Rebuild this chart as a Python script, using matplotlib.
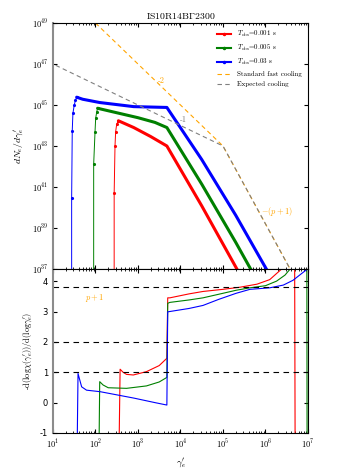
import numpy as np
import matplotlib
matplotlib.use('Agg')
import matplotlib.pyplot as plt
from matplotlib.lines import Line2D

plt.rcParams['font.family'] = 'serif'
plt.rcParams['font.serif'] = ['cmr10']
plt.rcParams['mathtext.fontset'] = 'cm'
plt.rcParams['axes.unicode_minus'] = False
plt.rcParams['axes.formatter.use_mathtext'] = True

# ---- top panel: electron spectra (log10 gamma, log10 dN/dgamma) ----
red_rise_lg = [2.44, 2.44, 2.46, 2.475, 2.50, 2.54]
red_rise_ln = [35.0, 40.69, 43.01, 43.70, 44.07, 44.23]
red_tail_lg = [2.54, 2.9, 3.3, 3.68, 4.5, 5.3, 5.5]
red_tail_ln = [44.23, 43.9, 43.46, 43.0, 40.08, 37.1, 36.35]

green_rise_lg = [1.958, 1.958, 1.99, 2.005, 2.03, 2.05]
green_rise_ln = [35.0, 42.11, 43.70, 44.35, 44.67, 44.84]
green_tail_lg = [2.05, 2.4, 3.0, 3.4, 3.68, 4.5, 5.3, 5.65, 5.9]
green_tail_ln = [44.84, 44.67, 44.38, 44.15, 43.9, 41.14, 38.3, 37.0, 36.1]

blue_rise_lg = [1.44, 1.44, 1.454, 1.47, 1.50, 1.53, 1.558]
blue_rise_ln = [35.0, 40.48, 43.75, 44.6, 44.98, 45.24, 45.38]
blue_tail_lg = [1.558, 1.7, 2.1, 2.9, 3.68, 4.5, 5.3, 6.0, 6.3]
blue_tail_ln = [45.38, 45.28, 45.12, 44.92, 44.88, 42.34, 39.62, 37.07, 36.0]

fast_lg = [2.0, 5.0, 6.9]
fast_ln = [49.0, 43.0, 35.78]
expected_lg = [0.9, 5.0, 6.9]
expected_ln = [47.1, 43.0, 35.78]

# ---- bottom panel: local slope ----
red_s_lg = [2.55, 2.58, 2.65, 2.73, 2.89, 3.2, 3.5, 3.68, 3.70, 3.75, 4.2, 4.53, 5.0,
            5.4, 5.8, 6.1, 6.26, 6.38, 6.5, 6.68, 6.70]
red_s = [-2.0, 1.10, 1.0, 0.93, 0.91, 1.02, 1.22, 1.46, 3.45, 3.45, 3.58, 3.66, 3.73,
         3.80, 3.90, 4.05, 4.25, 4.4, 5.0, 8.0, -3.0]

green_s_lg = [2.08, 2.10, 2.18, 2.30, 2.73, 3.2, 3.5, 3.68, 3.70, 3.75, 4.2, 4.53, 5.0,
              5.31, 5.635, 6.0, 6.26, 6.46, 6.58, 6.7, 6.97, 6.98]
green_s = [-2.0, 0.69, 0.58, 0.49, 0.47, 0.55, 0.68, 0.83, 3.27, 3.3, 3.38, 3.45, 3.6,
           3.7, 3.78, 3.85, 4.0, 4.2, 4.4, 5.0, 8.0, -3.0]

blue_s_lg = [1.565, 1.59, 1.63, 1.675, 1.79, 2.11, 2.9, 3.4, 3.68, 3.70, 3.75, 4.2, 4.53,
             4.9, 5.31, 5.635, 6.1, 6.42, 6.65, 6.85, 6.97, 7.05]
blue_s = [-2.0, 0.96, 0.75, 0.52, 0.41, 0.36, 0.15, 0.0, -0.08, 2.99, 3.0, 3.1, 3.2,
          3.4, 3.6, 3.73, 3.78, 3.87, 4.03, 4.25, 4.38, 5.0]

ref_levels = [1.0, 2.0, 3.8]
labels = [r'$T_{\rm obs}$=0.001 s', r'$T_{\rm obs}$=0.005 s', r'$T_{\rm obs}$=0.03 s']
colors = ['red', 'green', 'blue']

fig = plt.figure(figsize=(3.53, 4.71), dpi=100)
ax1 = fig.add_axes([0.150, 0.4289, 0.7225, 0.5223])
ax2 = fig.add_axes([0.150, 0.0807, 0.7225, 0.3482])

p = lambda a: 10.0 ** np.array(a)

rises = [(red_rise_lg, red_rise_ln), (green_rise_lg, green_rise_ln), (blue_rise_lg, blue_rise_ln)]
tails = [(red_tail_lg, red_tail_ln), (green_tail_lg, green_tail_ln), (blue_tail_lg, blue_tail_ln)]
for (rx, ry), (tx, ty), c in zip(rises, tails, colors):
    ax1.plot(p(rx), p(ry), '.-', color=c, lw=0.7, ms=2.5)
    ax1.plot(p(tx), p(ty), '-', color=c, lw=2.2, solid_capstyle='round')

ax1.plot(p(fast_lg), p(fast_ln), color='orange', lw=0.8, dashes=(4, 3))
ax1.plot(p(expected_lg), p(expected_ln), color='gray', lw=0.8, dashes=(4, 3))

ax1.text(10**3.56, 10**46.2, '-2', color='orange', fontsize=6, ha='center', va='center')
ax1.text(10**4.06, 10**44.27, '-1', color='gray', fontsize=6, ha='center', va='center')
ax1.text(10**6.27, 10**39.8, r'$-(p+1)$', color='orange', fontsize=6, ha='center', va='center')

ax1.set_xscale('log')
ax1.set_yscale('log')
ax1.set_xlim(1e1, 1e7)
ax1.set_ylim(1e37, 1e49)
ax1.set_yticks([10.0 ** k for k in range(37, 50, 2)])
ax1.yaxis.set_minor_locator(matplotlib.ticker.NullLocator())
ax1.set_xticklabels([])
ax1.tick_params(axis='both', which='both', direction='in', top=True, right=True, labelsize=6)
ax1.tick_params(which='major', length=3)
ax1.tick_params(which='minor', length=1.5)
ax1.set_ylabel(r"$dN_e/d\gamma_e'$", fontsize=7)
ax1.set_title(r'IS10R14B$\Gamma$2300', fontsize=7, pad=3)

handles = [Line2D([], [], color=c, lw=1.5, marker='.', ms=3) for c in colors]
handles += [Line2D([], [], color='orange', lw=0.8, dashes=(4, 3)),
            Line2D([], [], color='gray', lw=0.8, dashes=(4, 3))]
ax1.legend(handles, labels + ['Standard fast cooling', 'Expected cooling'],
           loc='upper right', fontsize=5, frameon=False, handlelength=2.0,
           labelspacing=0.55, borderaxespad=0.5)

for xs, ys, c in [(red_s_lg, red_s, 'red'), (green_s_lg, green_s, 'green'), (blue_s_lg, blue_s, 'blue')]:
    ax2.plot(p(xs), ys, '-', color=c, lw=0.8)
for lv in ref_levels:
    ax2.axhline(lv, color='black', lw=0.8, dashes=(5, 4))
ax2.text(10**1.99, 3.45, r'$p+1$', color='orange', fontsize=6, ha='center', va='center')

ax2.set_xscale('log')
ax2.set_xlim(1e1, 1e7)
ax2.set_ylim(-1, 4.4)
ax2.set_yticks([-1, 0, 1, 2, 3, 4])
ax2.set_yticklabels(['-1', '0', '1', '2', '3', '4'], family='DejaVu Sans')
ax2.tick_params(axis='both', which='both', direction='in', top=True, right=True, labelsize=6)
ax2.tick_params(which='major', length=3)
ax2.tick_params(which='minor', length=1.5)
ax2.set_xlabel(r"$\gamma_e'$", fontsize=7)
ax2.set_ylabel(r"-d(log$\chi(\gamma_e')$)/d(log$\gamma_e'$)", fontsize=6)

for ax in (ax1, ax2):
    ax.spines['left'].set_color('0.55')
    ax.spines['left'].set_linewidth(1.5)

fig.savefig('out.png', dpi=100)
